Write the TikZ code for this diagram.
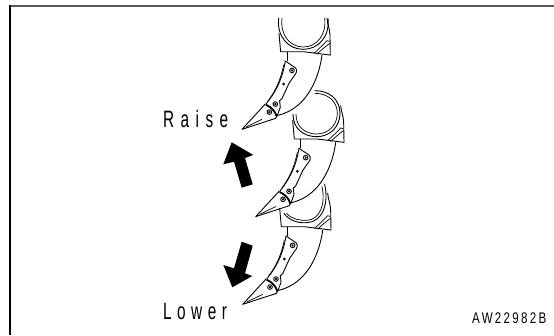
\documentclass[tikz,border=0pt]{standalone}
\usepackage{fontspec}
\setmainfont{Liberation Sans}
\newfontfamily\lblfont[FakeStretch=0.65,LetterSpace=27]{Liberation Sans}
\newfontfamily\lowfont[FakeStretch=0.65,LetterSpace=23]{Liberation Sans}
\newfontfamily\codefont[FakeStretch=0.75,LetterSpace=15]{Liberation Sans}
\tikzset{
  frametop/.style={draw=black!65,line width=2pt},
  frameleft/.style={draw=black,line width=1.4pt},
  ln/.style={line width=0.9pt,line join=round,line cap=round},
  thin ln/.style={line width=0.7pt,line cap=round},
  band/.style={line width=1.8pt},
  bigarrow/.style={fill=black,draw=none},
  lbl/.style={inner sep=0pt,anchor=base west,text=black}
}
\newcommand{\ripper}[2]{%
  \begin{scope}[shift={(#1pt,-#2pt)},x=0.3333pt,y=-0.3333pt]
  \begin{scope}[shift={(-180,-155)}]
    \draw[ln] (200,156) -- (200,182);
    \draw[ln] (305,166) .. controls (297,225) and (265,325) .. (172,346);
    \draw[ln] (195,183) -- (225,203) .. controls (232,210) and (229,220) .. (221,228)
       -- (206,250) -- (185,296) -- (178,302) -- (180,322) -- (171,346);
    \draw[ln] (195,183) .. controls (188,225) and (175,265) .. (137,312);
    \draw[thin ln] (190,195) .. controls (182,235) and (168,270) .. (143,303);
    \draw[band] (137,314) .. controls (155,322) and (165,335) .. (169,349);
    \draw[ln] (135,312) -- (65,388) -- (166,355) -- (171,346);
    \draw[thin ln] (77,381) -- (125,358);
    \draw[ln] (215,211) circle (7);
    \fill (215,211) circle (3.5);
    \fill (190,252) circle (4.5);
    \draw[ln] (165,312) circle (7);
    \fill (165,312) circle (4);
    \draw[ln] (147,336) circle (7);
    \fill (147,336) circle (4);
  \end{scope}
  \end{scope}}
\newcommand{\bracketbase}[2]{%
  \begin{scope}[shift={(#1pt,-#2pt)},x=0.3333pt,y=-0.3333pt]
  \begin{scope}[shift={(-180,-155)}]
    \draw[ln] (176,100) -- (181,155) -- (250,155) -- (330,165);
    \draw[ln] (330,165) -- (329,105) .. controls (328,85) and (322,75) .. (320,55);
    \draw[thin ln] (281,160) .. controls (295,147) and (308,135) .. (320,122) -- (327,124);
    \draw[thin ln] (290,162) .. controls (303,150) and (315,140) .. (328,130);
  \end{scope}
  \end{scope}}
\begin{document}
\begin{tikzpicture}[x=1pt,y=1pt]
\useasboundingbox (0,0) rectangle (554,-335);
\draw[frametop] (9.3,-5.5) -- (554,-5.5);
\draw[frameleft] (10,-4.5) -- (10,-335);
\ripper{281}{226.7}
\bracketbase{281}{226.7}
\ripper{294}{139}
\bracketbase{294}{139}
\ripper{280.3}{51.7}
\bracketbase{280.3}{51.7}
\begin{scope}[x=0.3333pt,y=-0.3333pt]
  \begin{scope}[shift={(220pt,0pt)}]
    \draw[ln] (176,55) .. controls (170,110) and (205,148) .. (250,148) .. controls (295,148) and (330,110) .. (324,55);
    \draw[thin ln] (186,55) .. controls (180,105) and (210,141) .. (250,141) .. controls (290,141) and (320,105) .. (314,55);
  \end{scope}
  \begin{scope}[shift={(220pt,-80pt)}]
    \draw[ln] (285,32) .. controls (330,32) and (360,60) .. (360,100) .. controls (360,140) and (330,170) .. (290,170) .. controls (250,170) and (219,145) .. (219,103);
    \draw[thin ln] (285,40) .. controls (325,40) and (352,65) .. (352,100) .. controls (352,135) and (325,162) .. (290,162) .. controls (255,162) and (228,140) .. (228,103);
  \end{scope}
  \begin{scope}[shift={(220pt,-180pt)}]
    \draw[ln] (192,100) .. controls (210,125) and (240,130) .. (262,128) .. controls (305,125) and (328,75) .. (314,13);
    \draw[thin ln] (200,100) .. controls (215,118) and (240,122) .. (262,121) .. controls (298,118) and (318,75) .. (306,20);
  \end{scope}
\end{scope}
\fill[bigarrow] (231.7,-142.3) -- (253.3,-155) -- (245,-158) -- (252.7,-184.3) -- (241.7,-187.7) -- (234,-161.7) -- (223.3,-164.3) -- cycle;
\fill[bigarrow] (241.7,-241.7) -- (252.7,-245.7) -- (245,-273.3) -- (252.3,-276) -- (232.3,-287.3) -- (223.3,-265) -- (234,-268.3) -- cycle;
\node[lbl] (raise) at (163,-127.5) {\fontsize{23.7}{24}\lblfont Raise};
\node[lbl] (lower) at (163,-319) {\fontsize{23.7}{24}\lowfont Lower};
\node[lbl] (code) at (472,-323) {\fontsize{15.4}{16}\codefont AW22982B};
\end{tikzpicture}
\end{document}
